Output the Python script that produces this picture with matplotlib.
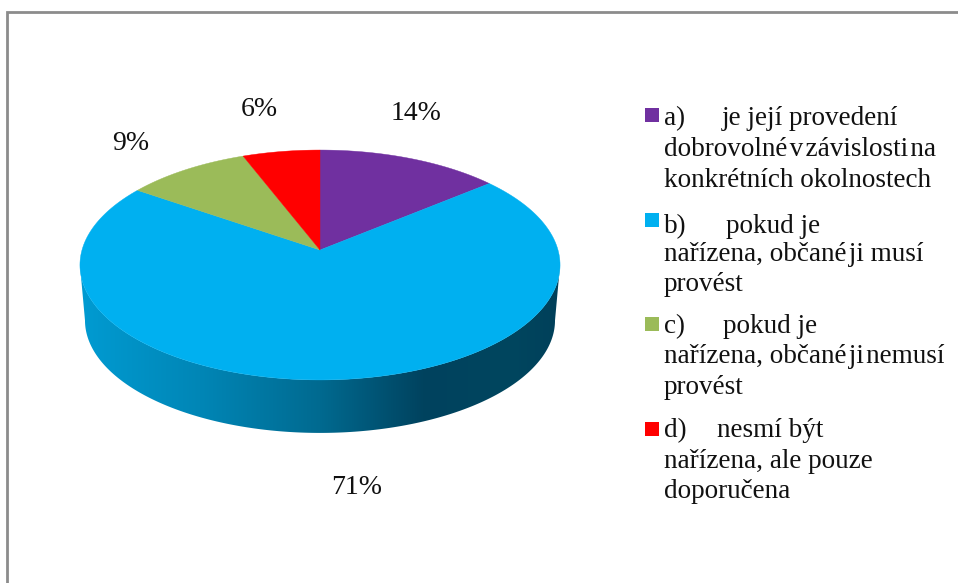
#!/usr/bin/env python
"""Perspective 3D pie with a hand-placed legend."""

import matplotlib
matplotlib.use("Agg")
import matplotlib.pyplot as plt
import numpy as np
from matplotlib.colors import LinearSegmentedColormap
from matplotlib.patches import Polygon, Rectangle

# slice sizes, labels as printed
values = [14, 70.6, 9.5, 5.9]
pct_labels = ["14%", "71%", "9%", "6%"]
colors = ["#7030A0", "#00B0F0", "#9BBB59", "#FF0000"]
legend_keys = ["a)", "b)", "c)", "d)"]
legend_heads = ["je její provedení", "pokud je", "pokud je", "nesmí být"]
legend_rest = [
    ["dobrovolné\u200av\u200azávislosti\u200ana", "konkrétních okolnostech"],
    ["nařízena, občané\u200aji musí", "provést"],
    ["nařízena, občané\u200aji\u200anemusí", "provést"],
    ["nařízena, ale pouze", "doporučena"],
]

# pixel layout
CX, CY = 320, 250
PA, PB, PK = 238.0, 113.0, 0.1304
pct_pos = [(416, 113), (357, 487), (131, 143), (259, 110)]
head_x = [722, 726, 723, 717]
base_y = [[125, 156, 187], [233, 261, 291], [333, 363, 394], [437, 468, 498]]
swatch_y = [108, 213, 317, 422]
TEXT_SIZE = 19.5
PCT_SIZE = 20.0


def rim(theta, scale=1.0, dy=0.0):
    """Circle angle (clockwise from top) to pixels, perspective squeezes the back."""
    x, y = np.sin(theta), np.cos(theta)
    d = 1 + PK * y
    return np.column_stack([CX + scale * PA * x / d, CY + dy - scale * PB * y / d])


fig = plt.figure(figsize=(9.58, 5.83), dpi=100)
ax = fig.add_axes([0, 0, 1, 1])
ax.set_xlim(0, 958)
ax.set_ylim(583, 0)
ax.axis("off")

# chart frame, right and bottom edges run off the picture
ax.plot([7, 7, 958], [583, 12, 12], color="#8C8C8C", linewidth=2.0, solid_joinstyle="miter")

# side of the disc, between the widest points of both rims
th0 = np.pi / 2 + np.arcsin(PK)
t_side = np.linspace(th0, 2 * np.pi - th0, 300)
side = np.vstack([rim(t_side), rim(t_side, 0.979, 55.7)[::-1]])
side_cmap = LinearSegmentedColormap.from_list("side", [
    (0.0, "#009BD2"), (0.25, "#0086B6"), (0.5, "#006A90"),
    (0.72, "#00425E"), (0.9, "#00465F"), (1.0, "#00405A"),
])
img = ax.imshow(np.linspace(0, 1, 256)[None, :], cmap=side_cmap, aspect="auto",
                extent=[80, 560, 435, 250], zorder=1)
img.set_clip_path(Polygon(side, closed=True, transform=ax.transData))
ax.set_xlim(0, 958)
ax.set_ylim(583, 0)

# top of the disc
edges = np.cumsum([0] + values) / sum(values) * 2 * np.pi
for i, col in enumerate(colors):
    th = np.linspace(edges[i], edges[i + 1], 200)
    pts = np.vstack([[CX, CY], rim(th)])
    ax.add_patch(Polygon(pts, closed=True, facecolor=col, edgecolor=col,
                         linewidth=0.3, zorder=2))

font = dict(family="Liberation Serif", color="#111111")
for lab, (x, y) in zip(pct_labels, pct_pos):
    ax.text(x, y, lab, ha="center", va="center", fontsize=PCT_SIZE, **font)

# legend
for i, col in enumerate(colors):
    ax.add_patch(Rectangle((645, swatch_y[i]), 14, 14, facecolor=col, edgecolor="none"))
    ax.text(664, base_y[i][0], legend_keys[i], ha="left", va="baseline", fontsize=TEXT_SIZE, **font)
    ax.text(head_x[i], base_y[i][0], legend_heads[i], ha="left", va="baseline", fontsize=TEXT_SIZE, **font)
    for line, y in zip(legend_rest[i], base_y[i][1:]):
        ax.text(664, y, line, ha="left", va="baseline", fontsize=TEXT_SIZE, **font)

fig.savefig("out.png", dpi=100)
